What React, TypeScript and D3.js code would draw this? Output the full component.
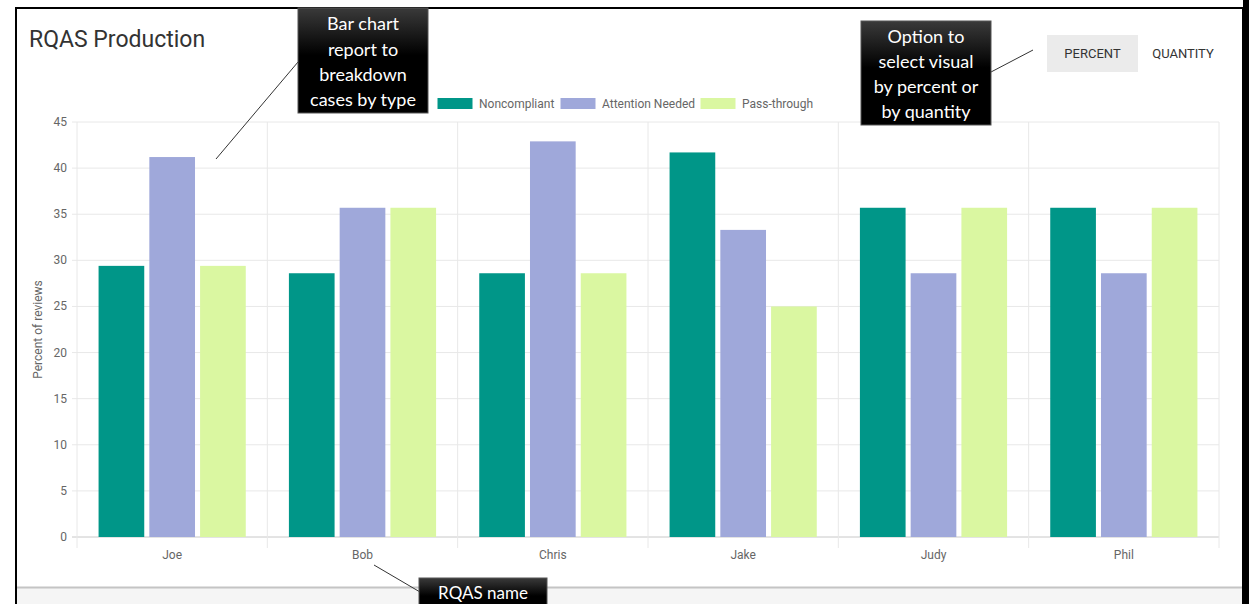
import * as d3 from 'd3';

const names = ['Joe', 'Bob', 'Chris', 'Jake', 'Judy', 'Phil'];
const seriesNames = ['Noncompliant', 'Attention Needed', 'Pass-through'];
const noncompliant = [29.4, 28.6, 28.6, 41.7, 35.7, 35.7];
const attentionNeeded = [41.2, 35.7, 42.9, 33.3, 28.6, 28.6];
const passThrough = [29.4, 35.7, 28.6, 25.0, 35.7, 35.7];
const yTicks = [0, 5, 10, 15, 20, 25, 30, 35, 40, 45];
const colors = ['#009688', '#9FA8DA', '#DAF7A1'];

const W = 1249;
const H = 604;
const plot = { left: 77, right: 1219, top: 122, bottom: 537 };
const sans = 'Roboto, "Liberation Sans", Arial, sans-serif';
const callout = '"Lato", "Open Sans", sans-serif';

function Callout({ x, y, w, h, lines, lineY, size = 18 }) {
	return (
		<g>
			<rect x={x} y={y} width={w} height={h} fill='url(#boxGrad)' stroke='#555' strokeWidth={1} />
			{lines.map((t, i) => (
				<text key={i} x={x + w / 2} y={lineY[i]} textAnchor='middle' fill='#fff'
					fontFamily={callout} fontSize={size}>{t}</text>
			))}
		</g>
	);
}

export default function App() {
	const series = [noncompliant, attentionNeeded, passThrough];

	const x0 = d3.scaleBand().domain(names).range([plot.left, plot.right]).paddingInner(0).paddingOuter(0);
	const inner = x0.bandwidth() * 0.8;
	const x1 = d3.scaleBand().domain(seriesNames).range([0, inner]).paddingInner(0.1).paddingOuter(0.05);
	const y = d3.scaleLinear().domain([0, 45]).range([plot.bottom, plot.top]);

	const legendX = [437, 560, 700];

	return (
		<svg width={W} height={H} style={{ position: 'absolute', left: 0, top: 0 }}>
			<defs>
				<linearGradient id='boxGrad' x1='0' y1='0' x2='0' y2='1'>
					<stop offset='0' stopColor='#3a3a3a' />
					<stop offset='0.45' stopColor='#000' />
					<stop offset='1' stopColor='#000' />
				</linearGradient>
			</defs>
			<rect x={0} y={0} width={W} height={H} fill='#fff' />
			{/* card */}
			<rect x={16} y={8} width={1227} height={H} fill='#fff' stroke='#000' strokeWidth={2} />
			<rect x={17} y={588} width={1225} height={20} fill='#f5f5f5' />
			<line x1={17} x2={1242} y1={587.5} y2={587.5} stroke='#c4c4c4' strokeWidth={2} />
			<rect x={1243} y={0} width={6} height={H} fill='#000' />

			<text x={29} y={47} fontFamily={sans} fontSize={23} fill='#333'>RQAS Production</text>

			{/* toggle */}
			<rect x={1047} y={35} width={91} height={37} fill='#ebebeb' />
			<text x={1092.5} y={58} textAnchor='middle' fontFamily={sans} fontSize={13} fill='#333'>PERCENT</text>
			<text x={1183} y={58} textAnchor='middle' fontFamily={sans} fontSize={13} fill='#333'>QUANTITY</text>

			{/* legend */}
			{seriesNames.map((s, i) => (
				<g key={s}>
					<rect x={legendX[i]} y={97.5} width={36} height={12} fill={colors[i]} stroke='#fff' strokeWidth={1} />
					<text x={legendX[i] + 42} y={108} fontFamily={sans} fontSize={12} fill='#666'>{s}</text>
				</g>
			))}

			{/* grid */}
			{yTicks.map(t => (
				<g key={t}>
					<line x1={plot.left - 5} x2={plot.right} y1={y(t)} y2={y(t)}
						stroke={t === 0 ? '#c8c8c8' : '#e8e8e8'} strokeWidth={1} />
					<text x={plot.left - 10} y={y(t) + 4} textAnchor='end' fontFamily={sans} fontSize={12} fill='#666'>{t}</text>
				</g>
			))}
			{[...names.map(n => x0(n)), plot.right].map((gx, i) => (
				<line key={i} x1={gx} x2={gx} y1={plot.top} y2={plot.bottom + 11} stroke='#e8e8e8' strokeWidth={1} />
			))}
			<text transform={`translate(42,${(plot.top + plot.bottom) / 2 + 0}) rotate(-90)`} textAnchor='middle'
				fontFamily={sans} fontSize={12} fill='#666'>Percent of reviews</text>

			{/* bars */}
			{names.map((n, ci) => (
				<g key={n} transform={`translate(${x0(n) + x0.bandwidth() * 0.1},0)`}>
					{series.map((vals, si) => (
						<rect key={si} x={x1(seriesNames[si])} y={y(vals[ci])} width={x1.bandwidth()}
							height={plot.bottom - y(vals[ci])} fill={colors[si]} />
					))}
					<text x={x0.bandwidth() * 0.4} y={559} textAnchor='middle' fontFamily={sans} fontSize={12} fill='#666'>{n}</text>
				</g>
			))}

			{/* callouts */}
			<line x1={298} y1={62} x2={216} y2={159} stroke='#333' strokeWidth={1} />
			<line x1={991} y1={72} x2={1033} y2={50} stroke='#333' strokeWidth={1} />
			<line x1={374} y1={565} x2={420} y2={592} stroke='#333' strokeWidth={1} />
			<Callout x={298} y={8} w={130} h={105} lines={['Bar chart', 'report to', 'breakdown', 'cases by type']} lineY={[30, 56, 81, 106]} />
			<Callout x={861} y={21} w={130} h={104} lines={['Option to', 'select visual', 'by percent or', 'by quantity']} lineY={[43, 68, 93, 118]} />
			<Callout x={419} y={578} w={128} h={40} lines={['RQAS name']} lineY={[599]} size={17} />
		</svg>
	);
}
